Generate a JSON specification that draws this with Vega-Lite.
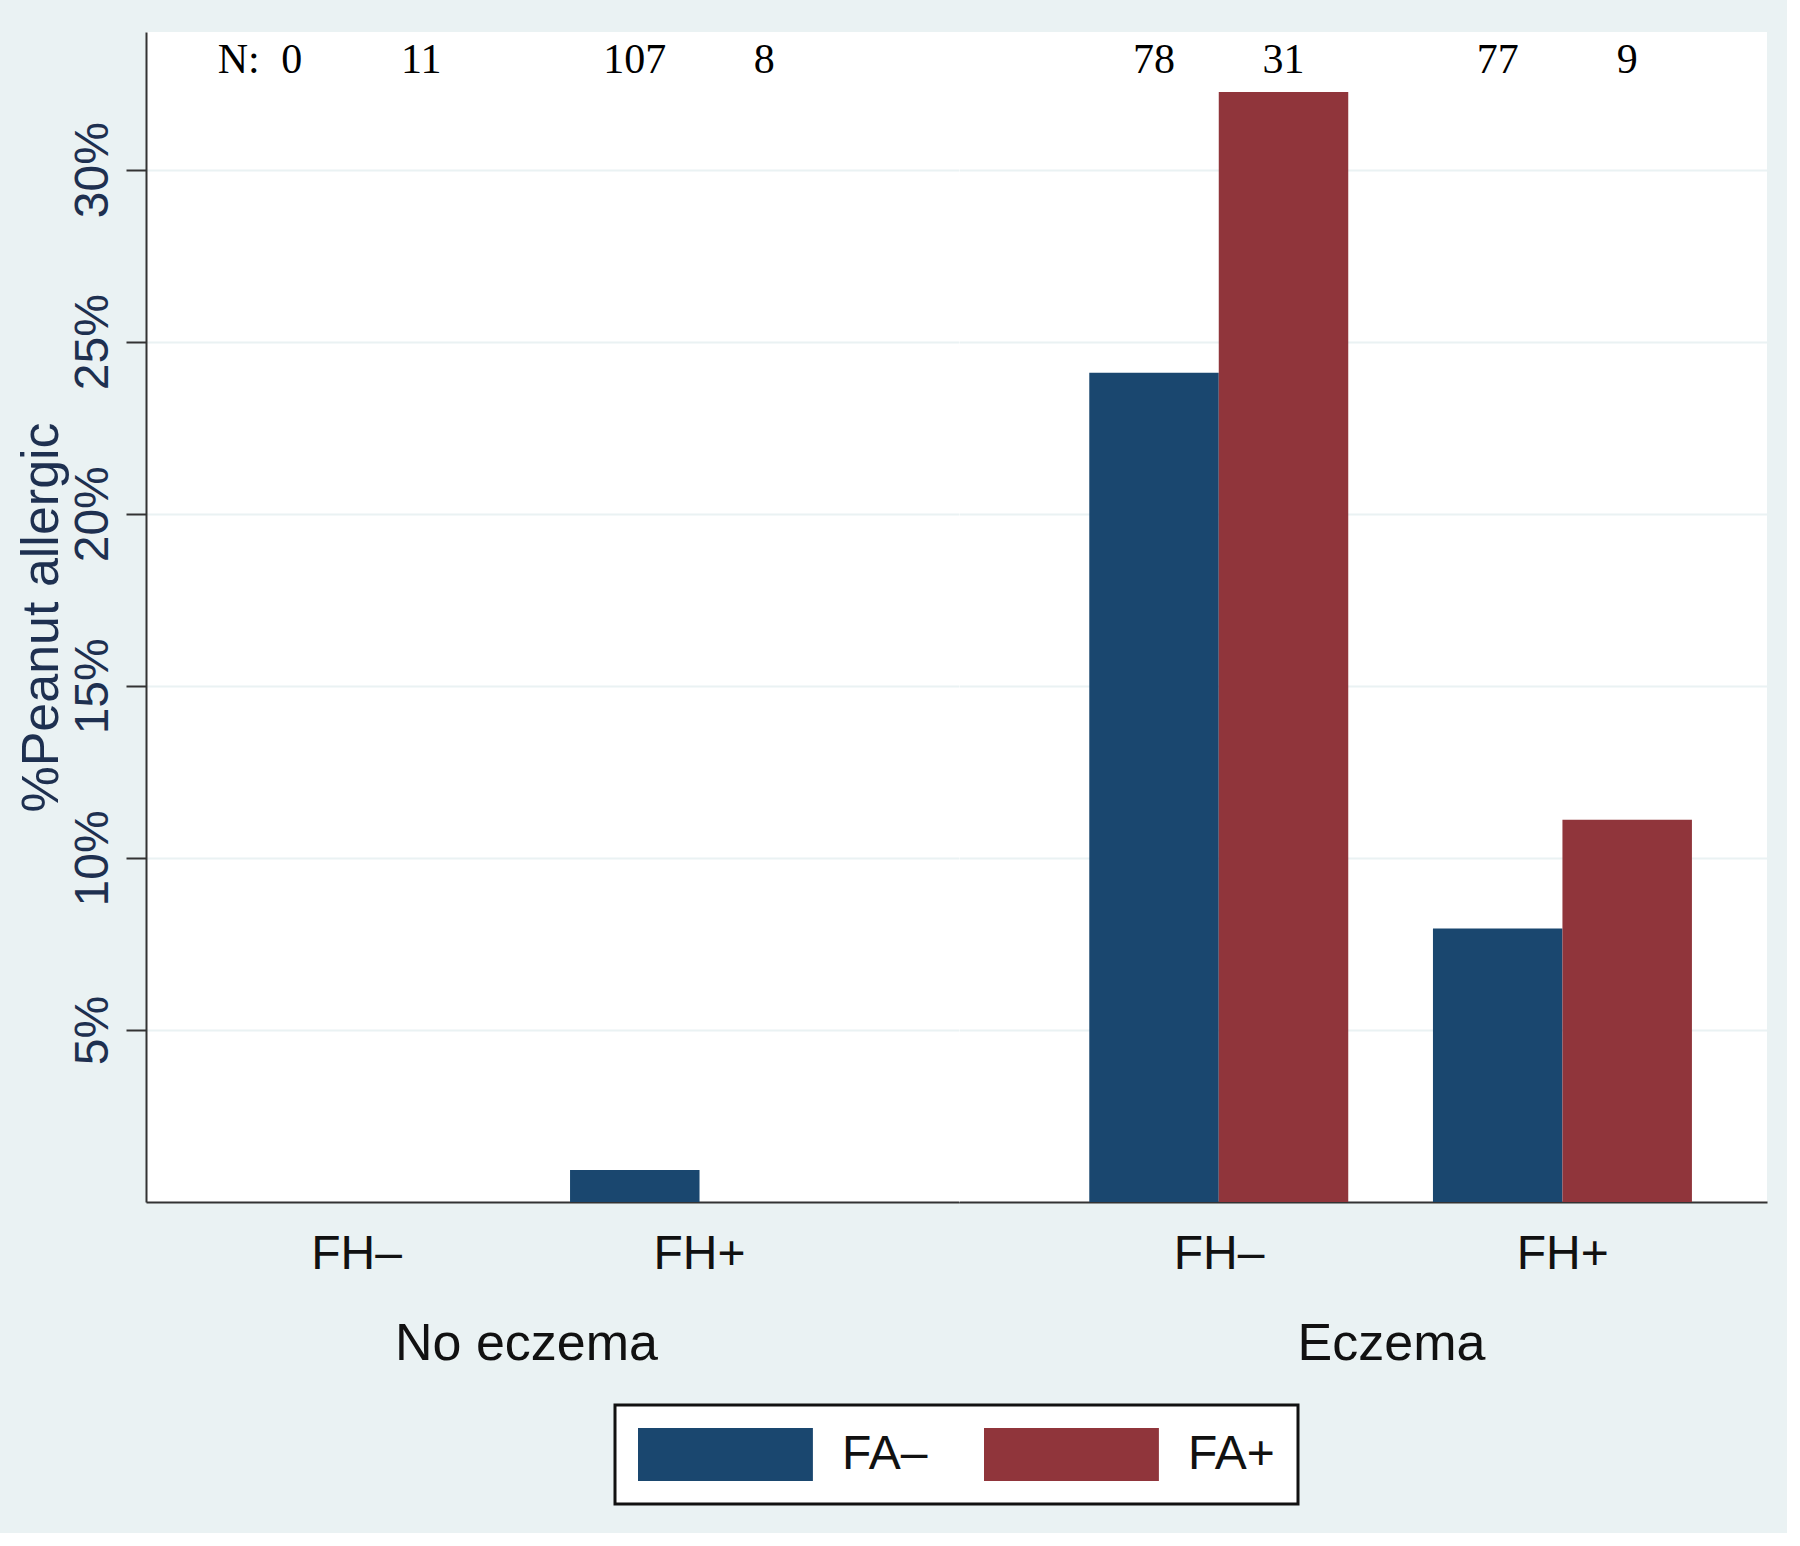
{
  "$schema": "https://vega.github.io/schema/vega-lite/v6.json",
  "background": "#eaf2f3",
  "padding": {"left": 14, "top": 32, "right": 20, "bottom": 27},
  "datasets": {
    "bars": [
      {"eczema": "No eczema", "fh": "FH–", "fa": "FA–", "pct": null, "n": 0},
      {"eczema": "No eczema", "fh": "FH–", "fa": "FA+", "pct": 0, "n": 11},
      {"eczema": "No eczema", "fh": "FH+", "fa": "FA–", "pct": 0.93, "n": 107},
      {"eczema": "No eczema", "fh": "FH+", "fa": "FA+", "pct": 0, "n": 8},
      {"eczema": "Eczema", "fh": "FH–", "fa": "FA–", "pct": 24.1, "n": 78},
      {"eczema": "Eczema", "fh": "FH–", "fa": "FA+", "pct": 32.26, "n": 31},
      {"eczema": "Eczema", "fh": "FH+", "fa": "FA–", "pct": 7.95, "n": 77},
      {"eczema": "Eczema", "fh": "FH+", "fa": "FA+", "pct": 11.11, "n": 9}
    ]
  },
  "data": {"name": "bars"},
  "spacing": 0,
  "hconcat": [
    {
      "width": 813,
      "height": 1170,
      "transform": [{"filter": "datum.eczema == 'No eczema'"}],
      "layer": [
        {
          "mark": {"type": "bar"},
          "encoding": {
            "x": {"field": "fh", "type": "nominal", "sort": ["FH–", "FH+"],
              "scale": {"paddingInner": 0.245, "paddingOuter": 0.3076, "align": 0.384},
              "axis": {"title": "No eczema", "titleX": 380}},
            "xOffset": {"field": "fa", "type": "nominal", "sort": ["FA–", "FA+"]},
            "y": {"field": "pct", "type": "quantitative",
              "scale": {"domain": [0, 34], "nice": false, "zero": true},
              "axis": {"title": "%Peanut allergic", "values": [5, 10, 15, 20, 25, 30],
                "labelExpr": "datum.value + '%'", "labelAngle": 270, "labelAlign": "center",
                "labelBaseline": "bottom", "tickSize": 20, "tickWidth": 2, "tickColor": "#333333",
                "labelPadding": 9, "titlePadding": 1, "labelFontSize": 48, "titleFontSize": 52,
                "labelColor": "#1e3050", "titleColor": "#1e3050", "domainColor": "#333333", "domainWidth": 2}},
            "color": {"field": "fa", "type": "nominal",
              "scale": {"domain": ["FA–", "FA+"], "range": ["#1a476f", "#90353b"]},
              "legend": {"orient": "none", "legendX": 469, "legendY": 1373, "direction": "horizontal", "title": null}}
          }
        },
        {
          "mark": {"type": "text", "font": "Liberation Serif", "fontSize": 42, "baseline": "middle", "color": "#000000"},
          "encoding": {
            "x": {"field": "fh", "type": "nominal", "sort": ["FH–", "FH+"]},
            "xOffset": {"field": "fa", "type": "nominal", "sort": ["FA–", "FA+"]},
            "y": {"datum": 33.2, "type": "quantitative"},
            "text": {"field": "n", "type": "quantitative"}
          }
        },
        {
          "transform": [{"filter": "datum.n == 0"}],
          "mark": {"type": "text", "font": "Liberation Serif", "fontSize": 42, "baseline": "middle", "align": "right", "dx": -32, "color": "#000000", "text": "N:"},
          "encoding": {
            "x": {"field": "fh", "type": "nominal", "sort": ["FH–", "FH+"]},
            "xOffset": {"field": "fa", "type": "nominal", "sort": ["FA–", "FA+"]},
            "y": {"datum": 33.2, "type": "quantitative"}
          }
        }
      ]
    },
    {
      "width": 808,
      "height": 1170,
      "transform": [{"filter": "datum.eczema == 'Eczema'"}],
      "layer": [
        {
          "mark": {"type": "bar"},
          "encoding": {
            "x": {"field": "fh", "type": "nominal", "sort": ["FH–", "FH+"],
              "scale": {"paddingInner": 0.245, "paddingOuter": 0.298, "align": 0.636},
              "axis": {"title": "Eczema", "titleX": 432}},
            "xOffset": {"field": "fa", "type": "nominal", "sort": ["FA–", "FA+"]},
            "y": {"field": "pct", "type": "quantitative",
              "scale": {"domain": [0, 34], "nice": false, "zero": true},
              "axis": {"title": null, "values": [5, 10, 15, 20, 25, 30], "labels": false, "ticks": false, "domain": false}},
            "color": {"field": "fa", "type": "nominal",
              "scale": {"domain": ["FA–", "FA+"], "range": ["#1a476f", "#90353b"]}}
          }
        },
        {
          "mark": {"type": "text", "font": "Liberation Serif", "fontSize": 42, "baseline": "middle", "color": "#000000"},
          "encoding": {
            "x": {"field": "fh", "type": "nominal", "sort": ["FH–", "FH+"]},
            "xOffset": {"field": "fa", "type": "nominal", "sort": ["FA–", "FA+"]},
            "y": {"datum": 33.2, "type": "quantitative"},
            "text": {"field": "n", "type": "quantitative"}
          }
        }
      ]
    }
  ],
  "resolve": {"scale": {"color": "shared", "y": "shared"}, "legend": {"color": "shared"}},
  "config": {
    "view": {"fill": "#ffffff", "stroke": null},
    "font": "Liberation Sans",
    "axis": {
      "grid": true, "gridColor": "#eaf2f3", "gridWidth": 2,
      "labelFont": "Liberation Sans", "titleFont": "Liberation Sans", "titleFontWeight": "normal"
    },
    "axisX": {
      "grid": false, "ticks": false, "labelPadding": 28, "titlePadding": 40,
      "labelFontSize": 48, "titleFontSize": 52, "labelColor": "#111111", "titleColor": "#111111",
      "domainColor": "#333333", "domainWidth": 2, "labelAngle": 0
    },
    "legend": {
      "strokeColor": "#111111", "strokeWidth": 3, "fillColor": "#ffffff", "padding": 23,
      "symbolType": "M-1,-1L5.6,-1L5.6,1L-1,1Z", "symbolSize": 2809, "symbolStrokeWidth": 0,
      "labelFontSize": 48, "labelOffset": 151, "columnPadding": 56, "labelColor": "#111111",
      "labelFont": "Liberation Sans", "symbolOpacity": 1
    }
  }
}
